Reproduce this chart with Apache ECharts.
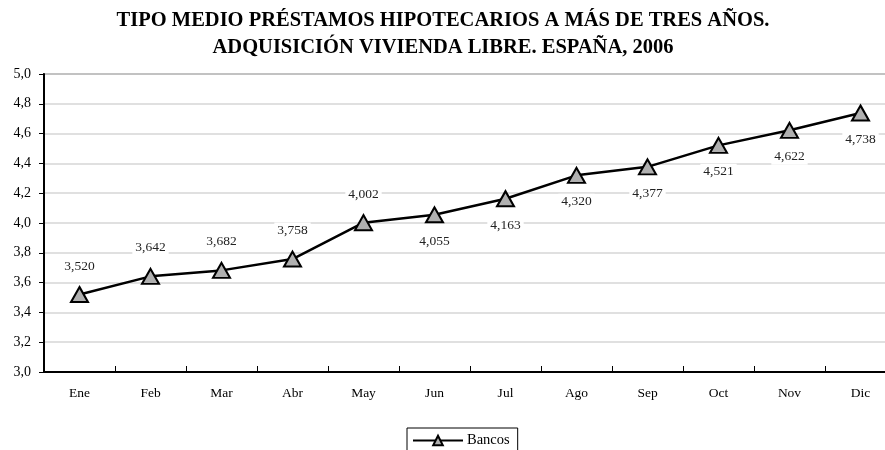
<!DOCTYPE html>
<html>
<head>
<meta charset="utf-8">
<script src="https://cdn.jsdelivr.net/npm/echarts@6/dist/echarts.min.js"></script>
<style>
  html, body { margin: 0; padding: 0; background: #fff; overflow: hidden; }
  #chart { width: 896px; height: 450px; }
</style>
</head>
<body>
<div id="chart"></div>
<script>
const months = ['Ene', 'Feb', 'Mar', 'Abr', 'May', 'Jun', 'Jul', 'Ago', 'Sep', 'Oct', 'Nov', 'Dic'];
const bancos = [3.520, 3.642, 3.682, 3.758, 4.002, 4.055, 4.163, 4.320, 4.377, 4.521, 4.622, 4.738];
// which labels go above the point, the rest go below
const labelAbove = [true, true, true, true, true, false, false, false, false, false, false, false];

const serif = '"Liberation Serif", "DejaVu Serif", serif';

// the plot runs a little past the right edge of the picture, so the
// chart is drawn wider than the window and the overflow is cut off
let chartDom = document.getElementById('chart');
let myChart = echarts.init(chartDom);

let seriesData = bancos.map(function (v, i) {
  return {
    value: v,
    label: {
      position: labelAbove[i] ? 'top' : 'bottom',
      distance: labelAbove[i] ? 12 : 10
    }
  };
});

let option = {
  backgroundColor: '#fff',
  animation: false,
  title: {
    left: 443,
    textAlign: 'center',
    top: 2,
    padding: [5, 0, 5, 0],
    text: 'TIPO MEDIO PRÉSTAMOS HIPOTECARIOS A MÁS DE TRES AÑOS.\nADQUISICIÓN VIVIENDA LIBRE. ESPAÑA, 2006',
    textStyle: {
      fontFamily: serif,
      fontSize: 20.5,
      fontWeight: 'bold',
      color: '#000',
      lineHeight: 27
    }
  },
  legend: {
    top: 428,
    left: 407,
    data: ['Bancos'],
    borderColor: '#000',
    borderWidth: 1,
    borderRadius: 0,
    padding: [5, 8, 9, 5],
    itemWidth: 50,
    itemHeight: 12,
    textStyle: { fontFamily: serif, fontSize: 14.5, color: '#000', padding: [0, 0, 0, -1] }
  },
  grid: {
    left: 44,
    right: 0,
    top: 74,
    bottom: 78,
    show: true,
    borderColor: '#888',
    borderWidth: 2
  },
  xAxis: {
    type: 'category',
    data: months,
    boundaryGap: true,
    axisLine: { lineStyle: { color: '#000', width: 2 } },
    axisTick: { show: true, inside: true, length: 6, lineStyle: { color: '#000', width: 1 } },
    axisLabel: { fontFamily: serif, fontSize: 13.5, color: '#000', margin: 14 },
    splitLine: { show: false }
  },
  yAxis: {
    type: 'value',
    min: 3.0,
    max: 5.0,
    interval: 0.2,
    axisLine: { show: true, lineStyle: { color: '#000', width: 2 } },
    axisTick: { show: true, length: 5, lineStyle: { color: '#000' } },
    axisLabel: {
      fontFamily: serif,
      fontSize: 14,
      color: '#000',
      margin: 13,
      formatter: function (v) { return v.toFixed(1).replace('.', ','); }
    },
    splitLine: { show: true, lineStyle: { color: '#d6d6d6', width: 1.5 } }
  },
  series: [
    {
      name: 'Bancos',
      type: 'line',
      data: seriesData,
      symbol: 'triangle',
      symbolSize: [17, 15],
      lineStyle: { color: '#000', width: 2.5 },
      itemStyle: { color: '#b0b0b0', borderColor: '#000', borderWidth: 2 },
      label: {
        show: true,
        fontFamily: serif,
        fontSize: 13.5,
        color: '#222',
        backgroundColor: '#fff',
        padding: [1, 3],
        formatter: function (p) { return p.value.toFixed(3).replace('.', ','); }
      }
    }
  ]
};

option && myChart.setOption(option);
</script>
</body>
</html>
